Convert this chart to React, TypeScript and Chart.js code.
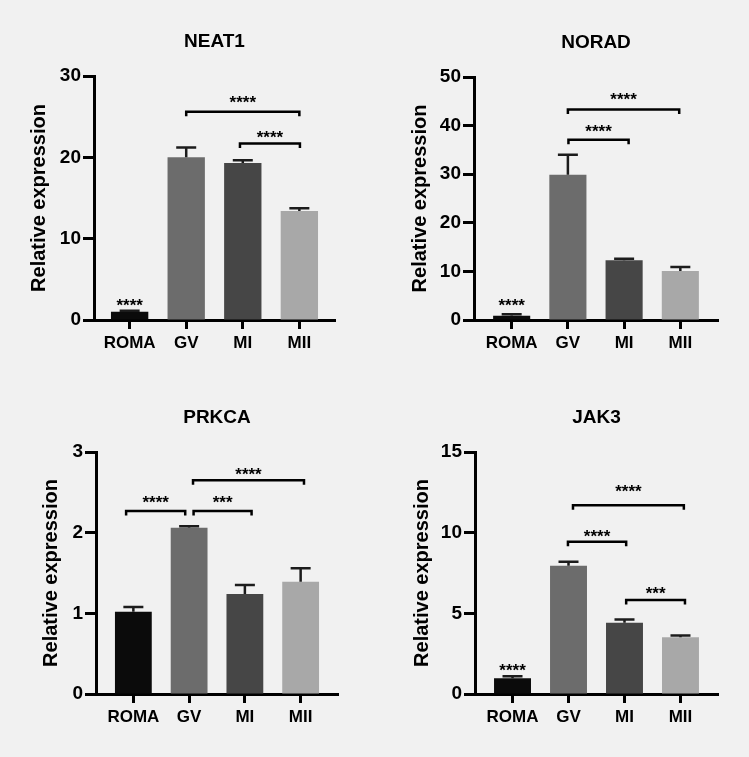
import React, { useEffect, useRef } from 'react';
import { Chart, registerables } from 'chart.js';

Chart.register(...registerables);

// ---------- data ----------
const CATEGORIES = ['ROMA', 'GV', 'MI', 'MII'];
const Y_TITLE = 'Relative expression';

const NEAT1_VALUES = [1.0, 20.0, 19.3, 13.4];
const NEAT1_ERRORS = [0.15, 1.2, 0.35, 0.35];
const NEAT1_Y = { max: 30, step: 10 };
const NEAT1_BRACKETS = [
  { from: 1, to: 3, y: 25.6, labelY: 27.2, label: '****' },
  { from: 1.95, to: 3.01, y: 21.7, labelY: 23.0, label: '****' },
];
const NEAT1_MARKS = [{ at: 0, y: 2.25, label: '****' }];

const NORAD_VALUES = [0.9, 29.9, 12.3, 10.1];
const NORAD_ERRORS = [0.3, 4.1, 0.3, 0.8];
const NORAD_Y = { max: 50, step: 10 };
const NORAD_BRACKETS = [
  { from: 1, to: 2.98, y: 43.3, labelY: 46.2, label: '****' },
  { from: 1.01, to: 2.08, y: 37.1, labelY: 39.7, label: '****' },
];
const NORAD_MARKS = [{ at: 0, y: 3.76, label: '****' }];

const PRKCA_VALUES = [1.02, 2.06, 1.24, 1.39];
const PRKCA_ERRORS = [0.06, 0.02, 0.11, 0.17];
const PRKCA_Y = { max: 3, step: 1 };
const PRKCA_BRACKETS = [
  { from: -0.13, to: 0.93, y: 2.27, labelY: 2.42, label: '****' },
  { from: 1.08, to: 2.12, y: 2.27, labelY: 2.42, label: '***' },
  { from: 1.07, to: 3.06, y: 2.65, labelY: 2.77, label: '****' },
];
const PRKCA_MARKS: { at: number; y: number; label: string }[] = [];

const JAK3_VALUES = [0.98, 7.95, 4.42, 3.52];
const JAK3_ERRORS = [0.12, 0.25, 0.2, 0.1];
const JAK3_Y = { max: 15, step: 5 };
const JAK3_BRACKETS = [
  { from: 1.08, to: 3.06, y: 11.7, labelY: 12.83, label: '****' },
  { from: 0.99, to: 2.03, y: 9.43, labelY: 10.05, label: '****' },
  { from: 2.03, to: 3.08, y: 5.83, labelY: 6.49, label: '***' },
];
const JAK3_MARKS = [{ at: 0, y: 1.71, label: '****' }];

const PANELS = [
  { title: 'NEAT1', values: NEAT1_VALUES, errors: NEAT1_ERRORS, yAxis: NEAT1_Y, brackets: NEAT1_BRACKETS, marks: NEAT1_MARKS, xRange: [-0.63, 3.63] },
  { title: 'NORAD', values: NORAD_VALUES, errors: NORAD_ERRORS, yAxis: NORAD_Y, brackets: NORAD_BRACKETS, marks: NORAD_MARKS, xRange: [-0.67, 3.67] },
  { title: 'PRKCA', values: PRKCA_VALUES, errors: PRKCA_ERRORS, yAxis: PRKCA_Y, brackets: PRKCA_BRACKETS, marks: PRKCA_MARKS, xRange: [-0.67, 3.67] },
  { title: 'JAK3', values: JAK3_VALUES, errors: JAK3_ERRORS, yAxis: JAK3_Y, brackets: JAK3_BRACKETS, marks: JAK3_MARKS, xRange: [-0.67, 3.67] },
];

// ---------- style / layout ----------
const BAR_COLORS = ['#0b0b0b', '#6c6c6c', '#464646', '#a8a8a8'];
const BG = '#f1f1f1';
const FONT = '"Liberation Sans", Arial, Helvetica, sans-serif';
const W = 374;
const H = 377;
const LAYOUT = [
  { left: 0, top: 0, area: { l: 94, r: 335, t: 76, b: 320 }, yTitlePad: 27.5 },
  { left: 375, top: 0, area: { l: 99, r: 343, t: 77, b: 320 }, yTitlePad: 33.5 },
  { left: 0, top: 380, area: { l: 96, r: 338, t: 72, b: 314 }, yTitlePad: 39 },
  { left: 375, top: 380, area: { l: 100, r: 343, t: 72, b: 314 }, yTitlePad: 35 },
];

type PanelT = (typeof PANELS)[number];

function drawStars(ctx: CanvasRenderingContext2D, label: string, cx: number, cy: number) {
  const size = 17;
  ctx.font = `bold ${size}px ${FONT}`;
  ctx.textAlign = 'center';
  ctx.textBaseline = 'alphabetic';
  ctx.fillStyle = '#000';
  ctx.fillText(label, cx, cy + 0.57 * size);
}

function makeAnnotations(panel: PanelT) {
  return {
    id: 'annotations',
    afterDatasetsDraw(chart: any) {
      const { ctx, chartArea } = chart;
      const x = chart.scales.x;
      const y = chart.scales.y;
      ctx.save();
      // error bars (upper only)
      ctx.strokeStyle = '#1c1c1c';
      ctx.lineWidth = 2.5;
      ctx.lineCap = 'butt';
      panel.values.forEach((v, i) => {
        const px = x.getPixelForValue(i);
        const y0 = y.getPixelForValue(v);
        const y1 = y.getPixelForValue(v + panel.errors[i]);
        ctx.beginPath();
        ctx.moveTo(px, y0);
        ctx.lineTo(px, y1);
        ctx.moveTo(px - 10, y1);
        ctx.lineTo(px + 10, y1);
        ctx.stroke();
      });
      // significance brackets
      ctx.strokeStyle = '#000';
      ctx.lineWidth = 2.5;
      panel.brackets.forEach((b) => {
        const x1 = x.getPixelForValue(b.from);
        const x2 = x.getPixelForValue(b.to);
        const by = y.getPixelForValue(b.y);
        ctx.beginPath();
        ctx.moveTo(x1, by + 4.5);
        ctx.lineTo(x1, by);
        ctx.lineTo(x2, by);
        ctx.lineTo(x2, by + 4.5);
        ctx.stroke();
        drawStars(ctx, b.label, (x1 + x2) / 2, y.getPixelForValue(b.labelY));
      });
      panel.marks.forEach((m) => {
        drawStars(ctx, m.label, x.getPixelForValue(m.at), y.getPixelForValue(m.y));
      });
      // panel title
      const tSize = 19;
      ctx.font = `bold ${tSize}px ${FONT}`;
      ctx.textAlign = 'center';
      ctx.textBaseline = 'alphabetic';
      ctx.fillStyle = '#000';
      ctx.fillText(panel.title, (chartArea.left + chartArea.right) / 2, chartArea.top - 36 + 0.358 * tSize);
      ctx.restore();
    },
  };
}

function Panel({ panel, layout }: { panel: PanelT; layout: (typeof LAYOUT)[number] }) {
  const ref = useRef<HTMLCanvasElement>(null);
  useEffect(() => {
    const area = layout.area;
    const chart = new Chart(ref.current as HTMLCanvasElement, {
      type: 'bar',
      data: {
        datasets: [
          {
            data: panel.values.map((v, i) => ({ x: i, y: v })) as any,
            backgroundColor: BAR_COLORS,
            borderWidth: 0,
            barPercentage: 0.66,
            categoryPercentage: 1,
          },
        ],
      },
      options: {
        responsive: false,
        animation: false,
        events: [],
        layout: { padding: { left: 0, top: area.t, right: W - area.r, bottom: 0 } },
        scales: {
          x: {
            type: 'linear',
            min: panel.xRange[0],
            max: panel.xRange[1],
            offset: false,
            afterBuildTicks: (s: any) => {
              s.ticks = CATEGORIES.map((_, i) => ({ value: i }));
            },
            afterFit: (s: any) => {
              s.height = H - area.b;
            },
            ticks: {
              autoSkip: false,
              maxRotation: 0,
              padding: 4,
              color: '#000',
              font: { family: FONT, size: 17, weight: 'bold' },
              callback: (v: any) => CATEGORIES[v] ?? '',
            },
            grid: {
              offset: false,
              drawOnChartArea: false,
              drawTicks: true,
              tickLength: 9,
              tickWidth: 3,
              tickColor: '#000',
            },
            border: { display: true, width: 3, color: '#000' },
          },
          y: {
            type: 'linear',
            min: 0,
            max: panel.yAxis.max,
            afterFit: (s: any) => {
              s.width = area.l;
            },
            ticks: {
              stepSize: panel.yAxis.step,
              padding: 2,
              color: '#000',
              font: { family: FONT, size: 19, weight: 'bold' },
            },
            grid: {
              drawOnChartArea: false,
              drawTicks: true,
              tickLength: 11,
              tickWidth: 3,
              tickColor: '#000',
            },
            border: { display: true, width: 3, color: '#000' },
            title: {
              display: true,
              text: Y_TITLE,
              color: '#000',
              font: { family: FONT, size: 20, weight: 'bold' },
              padding: { top: layout.yTitlePad, bottom: 0 },
            },
          },
        },
        plugins: {
          legend: { display: false },
          tooltip: { enabled: false },
          title: { display: false },
        },
      } as any,
      plugins: [makeAnnotations(panel)],
    });
    return () => chart.destroy();
  }, [panel, layout]);

  return (
    <canvas
      ref={ref}
      width={W}
      height={H}
      style={{ position: 'absolute', left: layout.left, top: layout.top, width: W, height: H, display: 'block' }}
    />
  );
}

export default function App() {
  return (
    <div style={{ position: 'absolute', left: 0, top: 0, width: 749, height: 757, background: BG, overflow: 'hidden' }}>
      {PANELS.map((p, i) => (
        <Panel key={p.title} panel={p} layout={LAYOUT[i]} />
      ))}
    </div>
  );
}
